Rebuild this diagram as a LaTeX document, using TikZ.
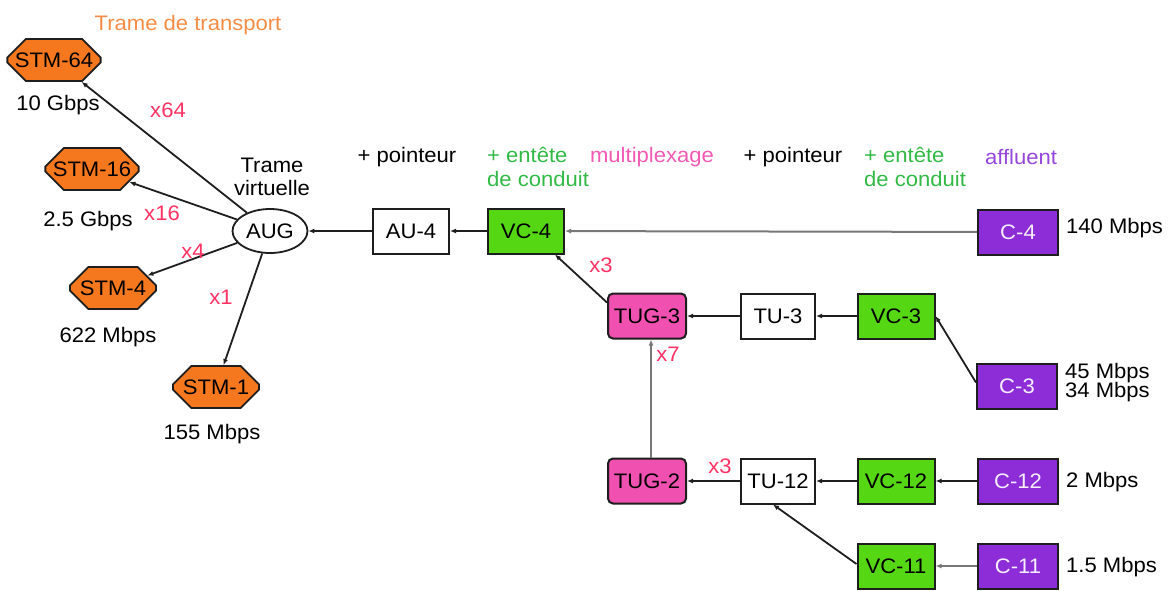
\documentclass[tikz,border=0pt]{standalone}
\usepackage{fontspec}
\setmainfont{Liberation Sans}[FakeStretch=1.05]
\usetikzlibrary{shapes.geometric,shapes.misc,arrows.meta}
\definecolor{stmorange}{RGB}{245,120,30}
\definecolor{vcgreen}{RGB}{85,215,20}
\definecolor{cpurple}{RGB}{140,45,215}
\definecolor{tugpink}{RGB}{240,80,175}
\definecolor{redlab}{RGB}{255,50,100}
\definecolor{orangelab}{RGB}{245,140,70}
\definecolor{greenlab}{RGB}{50,185,70}
\definecolor{pinklab}{RGB}{240,90,180}
\definecolor{purplelab}{RGB}{150,70,220}
\definecolor{edgecol}{RGB}{30,30,30}
\definecolor{graycol}{RGB}{120,120,120}
\begin{document}
\begin{tikzpicture}[x=1pt,y=-1pt,font=\fontsize{21}{21}\selectfont,
  box/.style={draw=edgecol,line width=2pt,minimum width=76pt,minimum height=45pt,inner sep=0pt},
  wbox/.style={box,fill=white},
  gbox/.style={box,fill=vcgreen},
  pbox/.style={box,fill=cpurple,text=white!92!cpurple},
  tbox/.style={box,fill=tugpink,rounded corners=5pt},
  stm/.style={chamfered rectangle,chamfered rectangle xsep=11pt,chamfered rectangle ysep=11pt,draw=edgecol,line width=1.8pt,fill=stmorange,minimum width=86pt,minimum height=42pt,inner sep=0pt},
  aug/.style={ellipse,draw=edgecol,line width=1.8pt,fill=white,minimum width=75pt,minimum height=44pt,inner sep=0pt},
  arr/.style={-{Latex[length=6pt,width=5pt]},line width=1.8pt,draw=edgecol},
  garr/.style={-{Latex[length=6pt,width=5pt]},line width=2pt,draw=graycol},
  mult/.style={text=redlab},
  lab/.style={inner sep=0pt},
  hdr/.style={inner sep=0pt,align=left,anchor=north west}]
\useasboundingbox (0,0) rectangle (1173,590);

% transport frames
\node[lab,text=orangelab] (tt) at (188,25) {Trame de transport};
\node[stm] (STM64) at (54,60) {STM-64};
\node[lab] (r64) at (58,105) {10 Gbps};
\node[stm] (STM16) at (92,169) {STM-16};
\node[lab] (r16) at (88,221) {2.5 Gbps};
\node[stm] (STM4) at (113,288) {STM-4};
\node[lab] (r4) at (108,337) {622 Mbps};
\node[stm] (STM1) at (216,387) {STM-1};
\node[lab] (r1) at (212,434) {155 Mbps};

\node[aug] (AUG) at (270,231) {AUG};
\node[lab,align=center] (tv) at (272,177) {Trame\\[2pt]virtuelle};

\draw[arr] (AUG) -- (STM64);
\draw[arr] (AUG) -- (STM16);
\draw[arr] (AUG) -- (STM4);
\draw[arr] (AUG) -- (STM1);
\node[lab,mult] (m64) at (168,110) {x64};
\node[lab,mult] (m16) at (162,213) {x16};
\node[lab,mult] (m4) at (193,251) {x4};
\node[lab,mult] (m1) at (221,297) {x1};

% headers
\node[lab] (h1) at (407,157) {+ pointeur};
\node[hdr,text=greenlab] (h2) at (487,147) {+ entête\\[3pt]de conduit};
\node[lab,text=pinklab] (h3) at (652,157) {multiplexage};
\node[lab] (h4) at (793,157) {+ pointeur};
\node[hdr,text=greenlab] (h5) at (864,147) {+ entête\\[3pt]de conduit};
\node[lab,text=purplelab] (h6) at (1021,157) {affluent};

% row 1
\node[wbox] (AU4) at (411,231) {AU-4};
\node[gbox] (VC4) at (526,231) {VC-4};
\node[pbox,minimum width=80pt] (C4) at (1018,232) {C-4};
\node[lab,anchor=west] (rc4) at (1066,228) {140 Mbps};
\draw[arr] (AU4) -- (AUG);
\draw[arr] (VC4) -- (AU4);
\draw[garr] (C4) -- (VC4);

% row 2
\node[tbox,minimum width=78pt] (TUG3) at (647,316) {TUG-3};
\node[wbox,minimum width=74pt] (TU3) at (778,316) {TU-3};
\node[gbox,minimum width=77pt] (VC3) at (896,316) {VC-3};
\node[pbox,minimum width=80pt] (C3) at (1017,386) {C-3};
\node[lab,anchor=west,align=left] (rc3) at (1065,383) {45 Mbps\\[-2pt]34 Mbps};
\coordinate (t3a) at ([yshift=-10pt]TUG3.north west);
\coordinate (v4b) at ([xshift=-10pt]VC4.south east);
\draw[arr] (t3a) -- (v4b);
\node[lab,mult] (m3a) at (601,265) {x3};
\draw[arr] (TU3) -- (TUG3);
\draw[arr] (VC3) -- (TU3);
\coordinate (c3a) at ([yshift=-20pt]C3.north west);
\draw[arr] (c3a) -- (VC3.east);

% row 3
\node[tbox,minimum width=78pt] (TUG2) at (647,481) {TUG-2};
\node[wbox,minimum width=74pt] (TU12) at (778,481) {TU-12};
\node[gbox,minimum width=77pt] (VC12) at (896,481) {VC-12};
\node[pbox,minimum width=80pt] (C12) at (1018,481) {C-12};
\node[lab,anchor=west] (rc12) at (1066,482) {2 Mbps};
\node[gbox,minimum width=77pt] (VC11) at (896,566) {VC-11};
\node[pbox,minimum width=80pt] (C11) at (1018,566) {C-11};
\node[lab,anchor=west] (rc11) at (1066,567) {1.5 Mbps};
\coordinate (t2a) at ([xshift=4pt]TUG2.north);
\draw[garr] (t2a) -- (TUG3.south -| t2a);
\node[lab,mult] (m7) at (668,354) {x7};
\draw[arr] (TU12) -- (TUG2);
\node[lab,mult] (m3b) at (720,466) {x3};
\draw[arr] (VC12) -- (TU12);
\draw[arr] (C12) -- (VC12);
\draw[garr] (C11) -- (VC11);
\coordinate (v11a) at ([yshift=2pt]VC11.west);
\draw[arr] (v11a) -- ([xshift=-5pt]TU12.south);
\end{tikzpicture}
\end{document}
